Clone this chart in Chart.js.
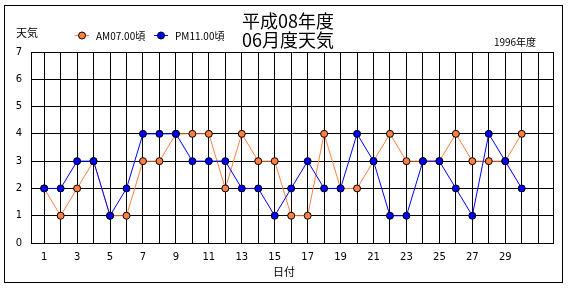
<!DOCTYPE html>
<html>
<head>
<meta charset="utf-8">
<script src="https://cdn.jsdelivr.net/npm/chart.js@4"></script>
<style>
  body { margin: 0; background: #fff; }
</style>
</head>
<body>
<canvas id="weatherChart" width="570" height="290"></canvas>
<script>
const days = [1, 2, 3, 4, 5, 6, 7, 8, 9, 10, 11, 12, 13, 14, 15, 16, 17, 18, 19, 20, 21, 22, 23, 24, 25, 26, 27, 28, 29, 30];
const gridDays = [1, 2, 3, 4, 5, 6, 7, 8, 9, 10, 11, 12, 13, 14, 15, 16, 17, 18, 19, 20, 21, 22, 23, 24, 25, 26, 27, 28, 29, 30, 31];
const amWeather = [2, 1, 2, 3, 1, 1, 3, 3, 4, 4, 4, 2, 4, 3, 3, 1, 1, 4, 2, 2, 3, 4, 3, 3, 3, 4, 3, 3, 3, 4];
const pmWeather = [2, 2, 3, 3, 1, 2, 4, 4, 4, 3, 3, 3, 2, 2, 1, 2, 3, 2, 2, 4, 3, 1, 1, 3, 3, 2, 1, 4, 3, 2];
const seriesNames = ["AM07.00頃", "PM11.00頃"];
const titleLines = ["平成08年度", "06月度天気"];
const yearLabel = "1996年度";

const orange = "#ff8040";
const blue = "#0000ff";
const jp = "'Noto Sans CJK JP', 'DejaVu Sans', sans-serif";

const toPoints = vals => vals.map((v, i) => ({ x: days[i], y: v }));

// Frame, titles and legend drawn around the plot
const decor = {
  id: "decor",
  beforeDraw(chart) {
    const ctx = chart.ctx;
    ctx.save();
    ctx.fillStyle = "#fff";
    ctx.fillRect(0, 0, chart.width, chart.height);
    ctx.strokeStyle = "#000";
    ctx.lineWidth = 1;
    ctx.strokeRect(4.5, 5.5, 558, 277);
    ctx.restore();
  },
  afterDraw(chart) {
    const ctx = chart.ctx;
    ctx.save();
    ctx.fillStyle = "#000";
    ctx.textBaseline = "middle";

    ctx.textAlign = "center";
    ctx.font = "18px " + jp;
    ctx.fillText(titleLines[0], 288, 21);
    ctx.fillText(titleLines[1], 288, 40);

    ctx.font = "10px " + jp;
    ctx.fillText(yearLabel, 515, 42);
    ctx.font = "11px " + jp;
    ctx.fillText("天気", 27, 33);
    ctx.fillText("日付", 284, 272);

    // legend: line + marker, then label
    const items = [
      { x: 75, color: orange, text: seriesNames[0] },
      { x: 154, color: blue, text: seriesNames[1] }
    ];
    items.forEach(it => {
      ctx.strokeStyle = it.color;
      ctx.lineWidth = 1;
      ctx.beginPath();
      ctx.moveTo(it.x, 35.5);
      ctx.lineTo(it.x + 14, 35.5);
      ctx.stroke();
      ctx.beginPath();
      ctx.arc(it.x + 7, 35.5, 3.5, 0, Math.PI * 2);
      ctx.fillStyle = it.color;
      ctx.fill();
      ctx.strokeStyle = "#000";
      ctx.stroke();
      ctx.fillStyle = "#000";
      ctx.textAlign = "left";
      ctx.font = "10px " + jp;
      ctx.fillText(it.text, it.x + 21, 36);
    });
    ctx.restore();
  }
};

new Chart(document.getElementById("weatherChart"), {
  type: "line",
  data: {
    datasets: [
      {
        label: seriesNames[1],
        data: toPoints(pmWeather),
        borderColor: blue,
        backgroundColor: blue,
        borderWidth: 1,
        pointRadius: 3.5,
        pointBorderColor: "#000",
        pointBorderWidth: 1,
        pointBackgroundColor: blue
      },
      {
        label: seriesNames[0],
        data: toPoints(amWeather),
        borderColor: orange,
        backgroundColor: orange,
        borderWidth: 1,
        pointRadius: 3.5,
        pointBorderColor: "#000",
        pointBorderWidth: 1,
        pointBackgroundColor: orange
      }
    ]
  },
  options: {
    responsive: false,
    animation: false,
    layout: { padding: { left: 0, right: 17, top: 52, bottom: 0 } },
    plugins: {
      legend: { display: false },
      title: { display: false },
      tooltip: { enabled: false }
    },
    scales: {
      x: {
        type: "linear",
        min: 0.2,
        max: 31.9,
        afterBuildTicks: axis => {
          axis.ticks = [0.2, ...gridDays, 31.9].map(v => ({ value: v }));
        },
        afterFit: s => { s.height = 47; },
        grid: { color: "#000", lineWidth: 1, drawTicks: false },
        border: { color: "#000" },
        ticks: {
          autoSkip: false,
          maxRotation: 0,
          padding: 8,
          color: "#000",
          font: { size: 10, family: "'DejaVu Sans', sans-serif" },
          callback: v => (Number.isInteger(v) && v % 2 === 1 && v <= 29 ? v : "")
        }
      },
      y: {
        min: 0,
        max: 7,
        afterFit: s => { s.width = 31; },
        grid: { color: "#000", lineWidth: 1, drawTicks: false },
        border: { color: "#000" },
        ticks: {
          stepSize: 1,
          padding: 9,
          color: "#000",
          font: { size: 10, family: "'DejaVu Sans', sans-serif" }
        }
      }
    }
  },
  plugins: [decor]
});
</script>
</body>
</html>
